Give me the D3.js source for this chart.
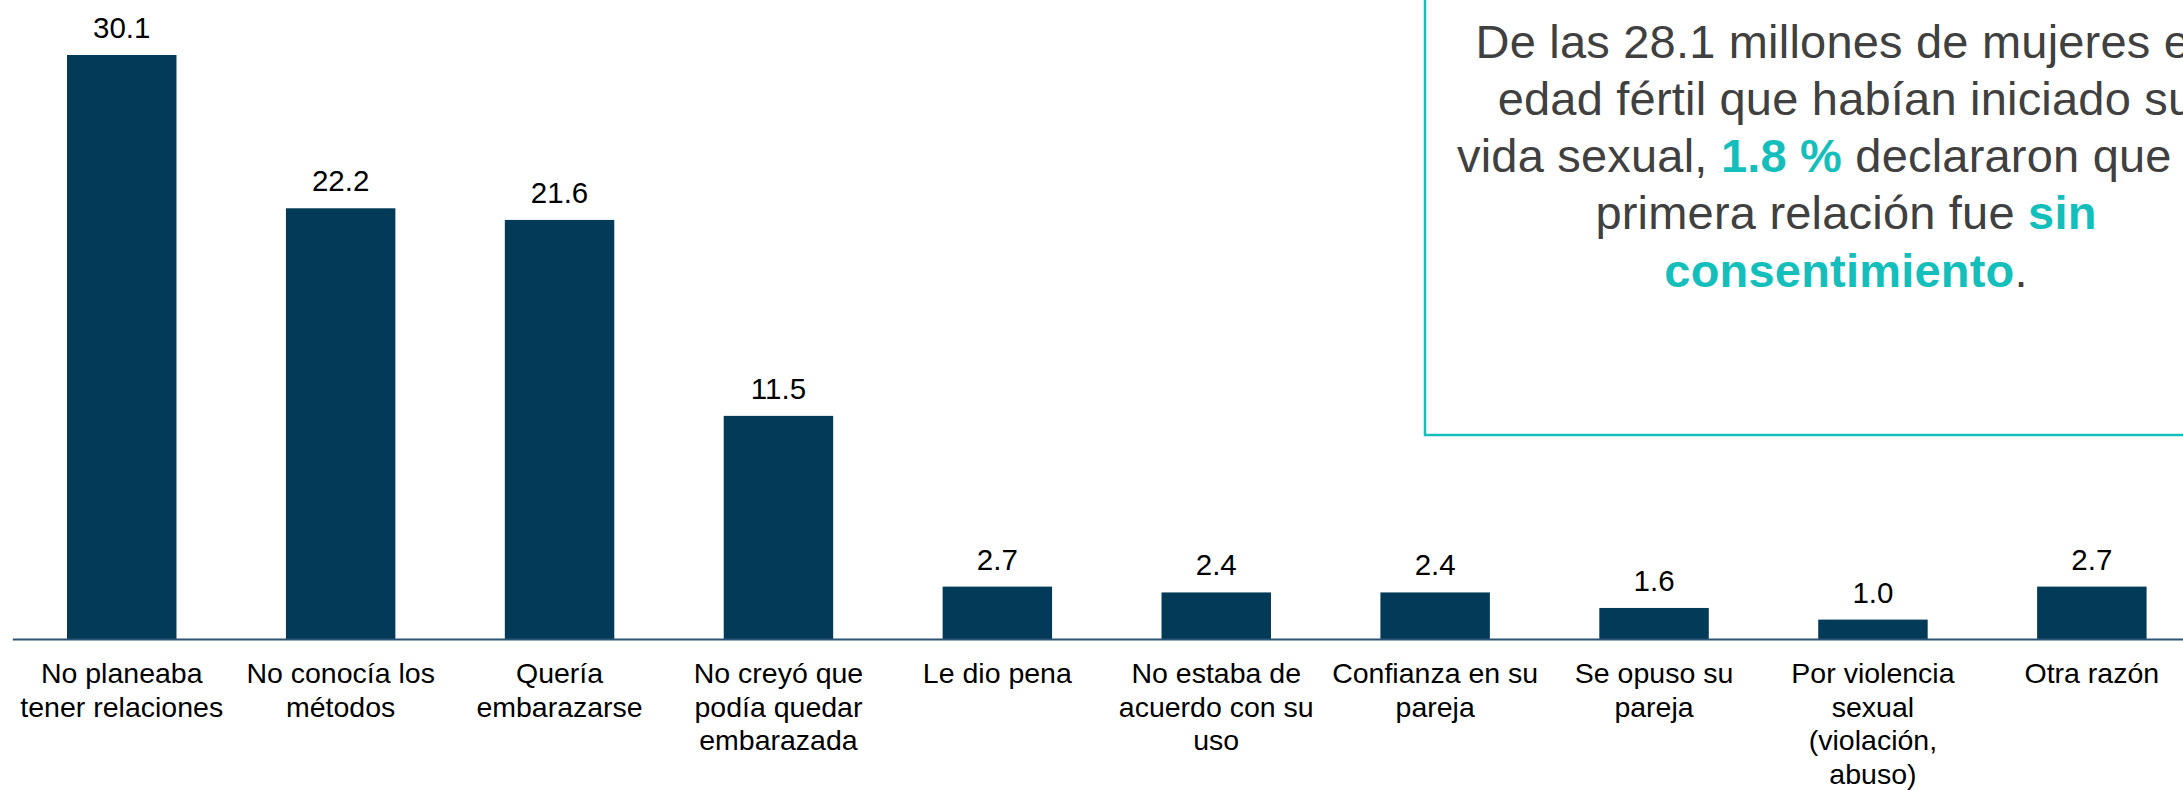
<!DOCTYPE html>
<html lang="es">
<head>
<meta charset="utf-8">
<script src="https://cdn.jsdelivr.net/npm/d3@7"></script>
<style>
  html, body { margin: 0; padding: 0; background: #ffffff; }
  svg { display: block; font-family: "Liberation Sans", Arial, sans-serif; }
</style>
</head>
<body>
<svg id="chart" width="2183" height="790"></svg>
<script>
// Razones por las que no usaron método anticonceptivo en la primera relación sexual (%)
const categories = [
  "No planeaba tener relaciones",
  "No conocía los métodos",
  "Quería embarazarse",
  "No creyó que podía quedar embarazada",
  "Le dio pena",
  "No estaba de acuerdo con su uso",
  "Confianza en su pareja",
  "Se opuso su pareja",
  "Por violencia sexual (violación, abuso)",
  "Otra razón"
];
const values = [30.1, 22.2, 21.6, 11.5, 2.7, 2.4, 2.4, 1.6, 1.0, 2.7];
const categoryLines = [
  ["No planeaba", "tener relaciones"],
  ["No conocía los", "métodos"],
  ["Quería", "embarazarse"],
  ["No creyó que", "podía quedar", "embarazada"],
  ["Le dio pena"],
  ["No estaba de", "acuerdo con su", "uso"],
  ["Confianza en su", "pareja"],
  ["Se opuso su", "pareja"],
  ["Por violencia", "sexual", "(violación,", "abuso)"],
  ["Otra razón"]
];
// Recuadro de texto: cada línea es una lista de [texto, resaltado]
const noteLines = [
  [["De las 28.1 millones de mujeres en", false]],
  [["edad fértil que habían iniciado su", false]],
  [["vida sexual, ", false], ["1.8 %", true], [" declararon que su", false]],
  [["primera relación fue ", false], ["sin", true]],
  [["consentimiento", true], [".", false]]
];

const svg = d3.select("#chart");
const barColor = "#023a58";
const teal = "#14bfbb";

const x = d3.scaleBand()
  .domain(categories)
  .range([12.3, 2201.3])
  .paddingInner(0.5)
  .paddingOuter(0.25);

const y = d3.scaleLinear()
  .domain([0, 30.1])
  .range([639, 55]);

// Bars
svg.append("g")
  .selectAll("rect")
  .data(categories)
  .join("rect")
  .attr("x", d => x(d))
  .attr("width", x.bandwidth())
  .attr("y", (d, i) => y(values[i]))
  .attr("height", (d, i) => y(0) - y(values[i]))
  .attr("fill", barColor);

// Value labels
svg.append("g")
  .selectAll("text")
  .data(categories)
  .join("text")
  .attr("x", d => x(d) + x.bandwidth() / 2)
  .attr("y", (d, i) => y(values[i]) - 17)
  .attr("text-anchor", "middle")
  .attr("font-size", 29.5)
  .attr("fill", "#000")
  .text((d, i) => values[i].toFixed(1));

// Category axis
const axis = svg.append("g")
  .attr("transform", `translate(0,${y(0)})`)
  .call(d3.axisBottom(x).tickSize(0).tickSizeOuter(0).tickFormat(""));
axis.select(".domain").attr("stroke", "#2d5474").attr("stroke-width", 2);

// Multi-line category labels
const labels = svg.append("g")
  .selectAll("text")
  .data(categories)
  .join("text")
  .attr("text-anchor", "middle")
  .attr("font-size", 28.5)
  .attr("fill", "#000");
labels.each(function(d, i) {
  const t = d3.select(this);
  categoryLines[i].forEach((line, k) => {
    t.append("tspan")
      .attr("x", x(d) + x.bandwidth() / 2)
      .attr("y", 683 + k * 33.5)
      .text(line);
  });
});

// Note box
svg.append("rect")
  .attr("x", 1425)
  .attr("y", -20)
  .attr("width", 900)
  .attr("height", 455)
  .attr("fill", "none")
  .attr("stroke", teal)
  .attr("stroke-width", 2.5);

const note = svg.append("g");
noteLines.forEach((parts, k) => {
  const t = note.append("text")
    .attr("x", 1846)
    .attr("y", 57.5 + k * 57.25)
    .attr("text-anchor", "middle")
    .attr("font-size", 47)
    .attr("letter-spacing", 0.2)
    .attr("fill", "#404040");
  parts.forEach(([txt, hi]) => {
    t.append("tspan")
      .attr("fill", hi ? teal : "#404040")
      .attr("font-weight", hi ? "bold" : "normal")
      .text(txt);
  });
});
</script>
</body>
</html>
